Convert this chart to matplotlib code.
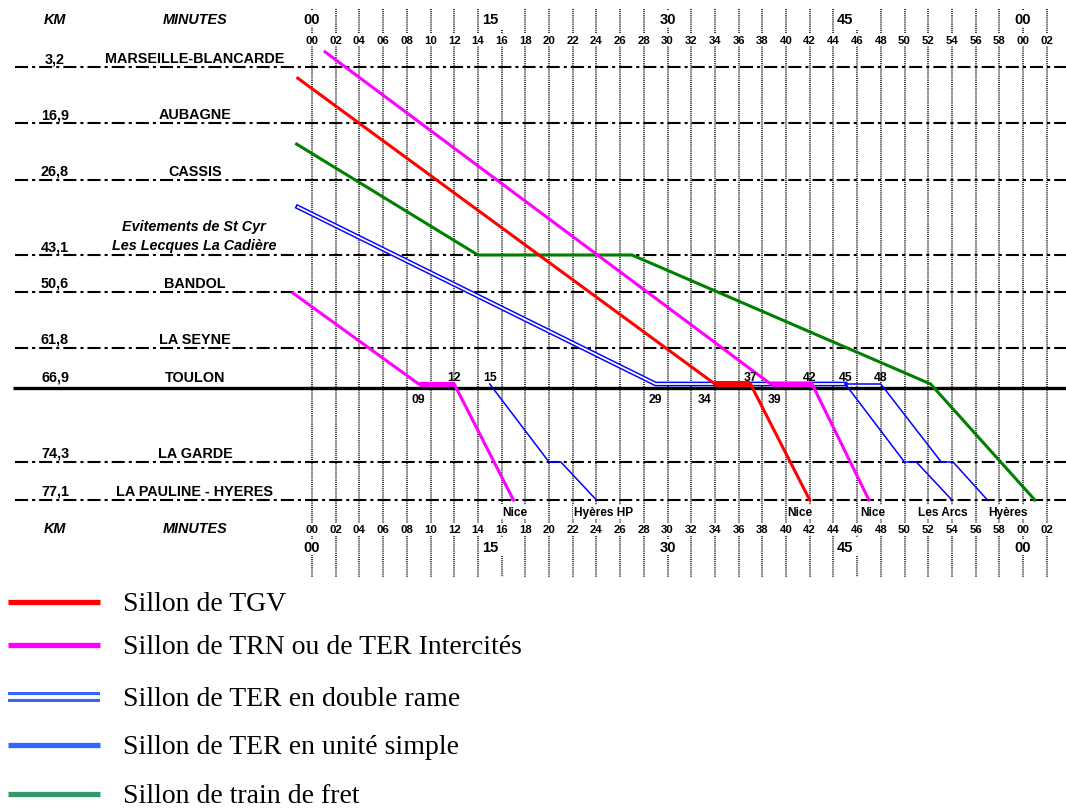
import numpy as np
import matplotlib
matplotlib.use("Agg")
import matplotlib.pyplot as plt
from matplotlib.transforms import blended_transform_factory

plt.rcParams["lines.scale_dashes"] = False
plt.rcParams["font.family"] = ["Liberation Sans", "DejaVu Sans"]

# ---------------- data ----------------
station_km = ["3,2", "16,9", "26,8", "43,1", "50,6", "61,8", "66,9", "74,3", "77,1"]
station_names = ["MARSEILLE-BLANCARDE", "AUBAGNE", "CASSIS",
                 "Evitements de St Cyr\nLes Lecques La Cadière",
                 "BANDOL", "LA SEYNE", "TOULON", "LA GARDE", "LA PAULINE - HYERES"]
station_italic = [False, False, False, True, False, False, False, False, False]

# train paths: times (minutes) and station index (0 = Marseille ... 8 = La Pauline)
tgv_t = [-1.2, 34, 37, 42]
tgv_s = [0.2, 6, 6, 8]
trn1_t = [-1.6, 9, 12, 17]
trn1_s = [4.02, 6, 6, 8]
trn2_t = [1.1, 38.7, 42.2, 47]
trn2_s = [-0.27, 6, 6, 8]
fret_t = [-1.3, 14, 27, 52.2, 61]
fret_s = [1.37, 3, 3, 6, 8]
ter_double_t = [-1.2, 29, 45]
ter_double_s = [2.36, 6, 6]
ter_simple_paths = [
    ([15, 20, 21, 24], [6, 7, 7, 8]),
    ([45, 50, 51, 54], [6, 7, 7, 8]),
    ([45, 48, 53.1, 54.1, 57], [6, 6, 7, 7, 8]),
]

toulon_times_above = [12, 15, 37, 42, 45, 48]
toulon_times_below = [9, 29, 34, 39]
destinations = ["Nice", "Hyères HP", "Nice", "Nice", "Les Arcs", "Hyères"]
destination_t = [17.1, 24.6, 41.2, 47.3, 53.2, 58.7]

minute_ticks = list(range(0, 63, 2))
minute_labels = ["%02d" % (m % 60) for m in minute_ticks]
quarter_ticks = [0, 15, 30, 45, 60]
quarter_labels = ["00", "15", "30", "45", "00"]

legend_labels = ["Sillon de TGV", "Sillon de TRN ou de TER Intercités",
                 "Sillon de TER en double rame", "Sillon de TER en unité simple",
                 "Sillon de train de fret"]

# ---------------- layout ----------------
W, H = 1066, 812
X0, PXM = 312.0, 11.85          # pixel of minute 0, pixels per minute
station_row = np.array([68, 124, 181, 256, 293, 349, 385, 463, 501], float)
line_row = station_row.copy()
line_row[6] = 389

fig = plt.figure(figsize=(W / 100, H / 100), dpi=100)
ax = fig.add_axes([0, 0, 1, 1])
ax.set_xlim(-X0 / PXM, (W - X0) / PXM)
ax.set_ylim(H, 0)
ax.axis("off")
tr_left = blended_transform_factory(ax.transAxes, ax.transData)


def pos(s):
    s = np.asarray(s, float)
    i = np.clip(np.floor(s).astype(int), 0, len(station_row) - 2)
    f = s - i
    return station_row[i] + f * (station_row[i + 1] - station_row[i])


def px(p):
    return p / W


dot = (0, (0.75, 0.75))
# vertical dotted grid
for m in minute_ticks:
    segs = [(10, 578)]
    if m in (16, 46):
        segs = [(31, 538), (557, 578)]
    for a, b in segs:
        ax.plot([m, m], [a, b], color="black", lw=1.1, linestyle=dot, zorder=1)

# station lines
dashdot = (0, (9.4, 2.9, 2.2, 2.9))
for k, r in enumerate(line_row):
    if k == 6:
        ax.plot([px(13), 1], [r, r], transform=tr_left, color="black", lw=2.4,
                solid_capstyle="butt", zorder=2)
    else:
        ax.plot([px(15), 1], [r, r], transform=tr_left, color="black", lw=1.5,
                linestyle=dashdot, zorder=2)

# station labels
for k, r in enumerate(line_row):
    ital = station_italic[k]
    off = 11 if k == 6 else 9
    ax.text(px(55), r - off, station_km[k], transform=tr_left, ha="center",
            va="center", fontsize=10.4, fontweight="bold", zorder=5)
    if ital:
        l1, l2 = station_names[k].split("\n")
        ax.text(px(194), r - 29, l1, transform=tr_left, ha="center", va="center",
                fontsize=10.4, fontweight="bold", fontstyle="italic", zorder=5)
        ax.text(px(194), r - 10, l2, transform=tr_left, ha="center", va="center",
                fontsize=10.4, fontweight="bold", fontstyle="italic", zorder=5)
    else:
        ax.text(px(195), r - off, station_names[k], transform=tr_left, ha="center",
                va="center", fontsize=10.4, fontweight="bold", zorder=5)

# headers
for yy in (20, 529):
    ax.text(px(55), yy, "KM", transform=tr_left, ha="center", va="center",
            fontsize=10.4, fontweight="bold", fontstyle="italic")
    ax.text(px(195), yy, "MINUTES", transform=tr_left, ha="center", va="center",
            fontsize=10.4, fontweight="bold", fontstyle="italic")

wb = dict(facecolor="white", edgecolor="none", pad=1.0)
for m, lab in zip(minute_ticks, minute_labels):
    for yy in (41, 530):
        ax.text(m, yy, lab, ha="center", va="center", fontsize=8.2,
                fontweight="bold", bbox=wb, zorder=6)
for m, lab in zip(quarter_ticks, quarter_labels):
    for yy in (20, 548):
        ax.text(m, yy, lab, ha="center", va="center", fontsize=10.6,
                fontweight="bold", bbox=wb, zorder=6)

# trains
RED, PINK, GREEN, BLUE = "#ff0000", "#ff00ff", "#008000", "#0000ff"


def draw_train(t, s, color, lw, dwell_lw=None):
    y = pos(s)
    ax.plot(t, y, color=color, lw=lw, solid_joinstyle="miter", zorder=4)
    if dwell_lw:
        for i in range(len(t) - 1):
            if s[i] == s[i + 1]:
                ax.plot(t[i:i + 2], y[i:i + 2], color=color, lw=dwell_lw,
                        solid_capstyle="butt", zorder=4)


draw_train(fret_t, fret_s, GREEN, 2.2)
yd = pos(ter_double_s)
ax.plot(ter_double_t, yd, color=BLUE, lw=3.4, zorder=4)
ax.plot(ter_double_t, yd, color="white", lw=1.3, zorder=4)
for t, s in ter_simple_paths:
    draw_train(t, s, BLUE, 1.1)
draw_train(tgv_t, tgv_s, RED, 2.2, dwell_lw=4.3)
draw_train(trn1_t, trn1_s, PINK, 2.2, dwell_lw=3.8)
draw_train(trn2_t, trn2_s, PINK, 2.2, dwell_lw=3.8)

# Toulon time marks
for m in toulon_times_above:
    ax.text(m, 378, "%02d" % m, ha="center", va="center", fontsize=8.8,
            fontweight="bold", zorder=6)
for m in toulon_times_below:
    ax.text(m - (0.9 if m == 34 else 0), 400, "%02d" % m, ha="center",
            va="center", fontsize=8.8, fontweight="bold", zorder=6)

for lab, m in zip(destinations, destination_t):
    ax.text(m, 513, lab, ha="center", va="center", fontsize=8.6,
            fontweight="bold", bbox=dict(facecolor="white", edgecolor="none",
                                         pad=0.6), zorder=6)

# legend
leg_rows = [603, 646, 698, 746, 795]
leg_colors = ["#ff0000", "#ff00ff", "#3366ff", "#3366ff", "#339966"]
for k, (r, c, lab) in enumerate(zip(leg_rows, leg_colors, legend_labels)):
    if k == 2:
        ax.plot([px(8), px(100)], [r, r], transform=tr_left, color=c, lw=7.2,
                solid_capstyle="butt")
        ax.plot([px(8), px(100)], [r, r], transform=tr_left, color="white",
                lw=2.8, solid_capstyle="butt")
    else:
        ax.plot([px(8), px(100)], [r, r], transform=tr_left, color=c, lw=3.8,
                solid_capstyle="butt")
    ax.text(px(123), r + 2, lab, transform=tr_left, ha="left", va="center",
            fontsize=20, family=["Liberation Serif", "DejaVu Serif"])

fig.savefig("out.png", dpi=100, facecolor="white")
